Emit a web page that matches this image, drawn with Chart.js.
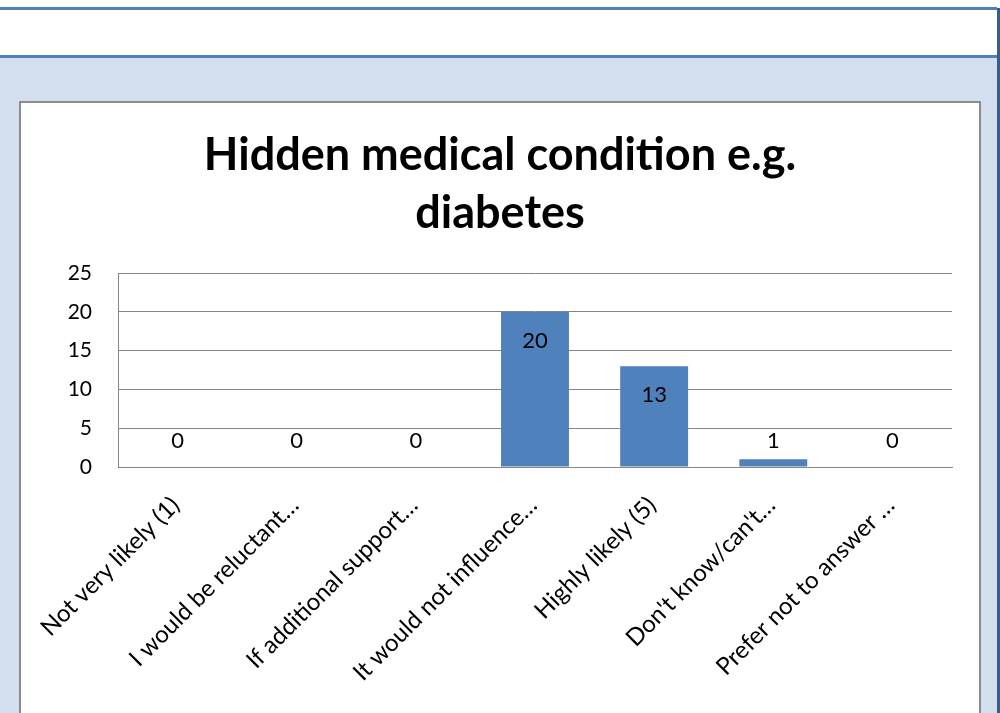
<!DOCTYPE html>
<html>
<head>
<meta charset="utf-8">
<script src="https://cdn.jsdelivr.net/npm/chart.js@4.4.0/dist/chart.umd.min.js"></script>
<style>
body{margin:0;width:1000px;height:713px;overflow:hidden;background:#d3dfee;position:relative;font-family:Lato,sans-serif}
#strip{position:absolute;left:0;top:0;width:1000px;height:8px;background:#fff}
#band{position:absolute;left:0;top:7px;width:997px;height:45px;background:#fff;border-top:3px solid #4f81bd;border-bottom:3px solid #4f81bd}
#edge{position:absolute;left:997px;top:8px;width:3px;height:705px;background:#385d8a}
#box{position:absolute;left:19px;top:101px;width:958px;height:620px;background:#fff;border:2px solid #8c8c8c;overflow:hidden}
</style>
</head>
<body>
<div id="strip"></div>
<div id="band"></div>
<div id="edge"></div>
<div id="box"><canvas id="myChart" width="958" height="620"></canvas></div>
<script>
var titleLines = ["Hidden medical condition e.g.", "diabetes"];
var categories = ["Not very likely (1)", "I would be reluctant…", "If additional support…",
                  "It would not influence…", "Highly likely (5)", "Don't know/can't…", "Prefer not to answer …"];
var counts = [0, 0, 0, 20, 13, 1, 0];
var yMax = 25;
var yStep = 5;

// value labels: inside the top of tall bars, just above short ones
var valueLabels = {
  id: "valueLabels",
  afterDatasetsDraw: function(chart) {
    var ctx = chart.ctx;
    var yScale = chart.scales.y;
    var base = yScale.getPixelForValue(0);
    ctx.save();
    ctx.font = "22px Lato";
    ctx.fillStyle = "#000";
    ctx.textAlign = "center";
    ctx.textBaseline = "middle";
    chart.getDatasetMeta(0).data.forEach(function(bar, i) {
      var y = Math.min(bar.y + 29, base - 26);
      ctx.fillText(String(counts[i]), bar.x, y);
    });
    ctx.restore();
  }
};

var mychart = new Chart(document.getElementById("myChart").getContext("2d"), {
  type: "bar",
  data: {
    labels: categories,
    datasets: [{
      data: counts,
      backgroundColor: "#4f81bd",
      categoryPercentage: 1,
      barPercentage: 0.57
    }]
  },
  options: {
    responsive: false,
    animation: false,
    layout: {padding: {left: 27, right: 27, top: 0, bottom: 0}},
    plugins: {
      legend: {display: false},
      tooltip: {enabled: false},
      title: {
        display: true,
        text: titleLines,
        color: "#000",
        font: {family: "Lato", weight: "bold", size: 45, lineHeight: 1.29},
        padding: {top: 23, bottom: 31}
      }
    },
    scales: {
      x: {
        grid: {display: false, drawTicks: false},
        border: {display: true, color: "#868686"},
        ticks: {
          color: "#000",
          font: {family: "Lato", size: 24},
          maxRotation: 45,
          minRotation: 45,
          autoSkip: false,
          padding: 24,
          labelOffset: -2
        },
        afterFit: function(scale) {
          scale.height = 256;
          scale.paddingLeft = 0;
          scale.paddingRight = 0;
        }
      },
      y: {
        min: 0,
        max: yMax,
        grid: {color: "#868686", drawTicks: false},
        border: {display: true, color: "#868686"},
        ticks: {
          stepSize: yStep,
          color: "#000",
          font: {family: "Lato", size: 21},
          padding: 26
        },
        afterFit: function(scale) { scale.width = 70; }
      }
    }
  },
  plugins: [valueLabels]
});
</script>
</body>
</html>
